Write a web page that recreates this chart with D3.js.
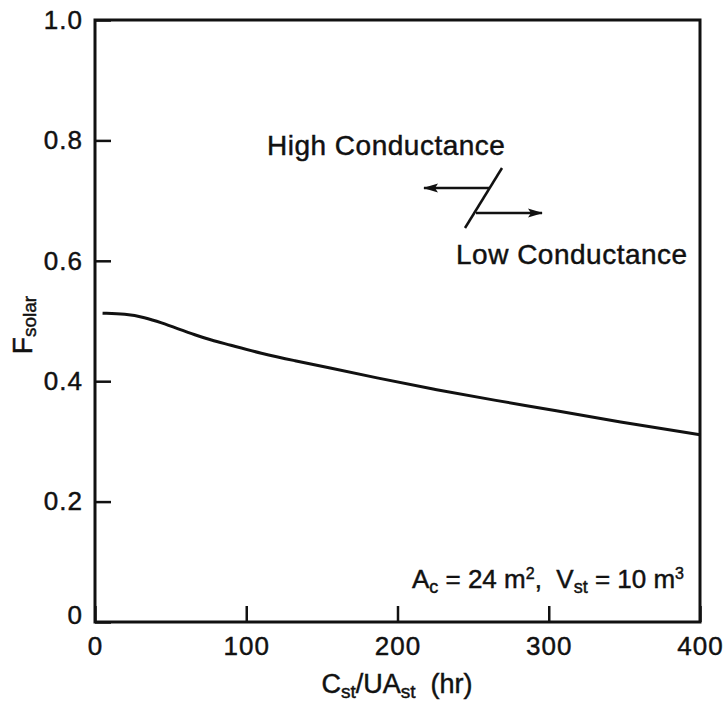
<!DOCTYPE html>
<html>
<head>
<meta charset="utf-8">
<script src="https://cdn.jsdelivr.net/npm/d3@7"></script>
<style>
  body { margin: 0; background: #fff; }
  text { font-family: "Liberation Sans", Arial, sans-serif; fill: #111; stroke: #111; stroke-width: 0.45px; }
</style>
</head>
<body>
<div id="chart"></div>
<script>
// storage time constant (hr) and solar fraction
var storageHours = [5, 20, 33, 44, 55, 66, 77, 88, 110, 132, 154, 185, 225, 265, 305, 345, 400];
var solarFraction = [0.513, 0.512, 0.506, 0.497, 0.487, 0.477, 0.468, 0.461, 0.446, 0.434, 0.423, 0.406, 0.386, 0.368, 0.351, 0.333, 0.311];

var xTicks = [0, 100, 200, 300, 400];
var yTicks = [0, 0.2, 0.4, 0.6, 0.8, 1.0];

var width = 724, height = 709;
var margin = {top: 20, right: 24, bottom: 87, left: 95};

var x = d3.scaleLinear().domain([0, 400]).range([margin.left, width - margin.right]);
var y = d3.scaleLinear().domain([0, 1]).range([height - margin.bottom, margin.top]);

var svg = d3.select('#chart').append('svg')
    .attr('width', width)
    .attr('height', height);

// frame
svg.append('rect')
    .attr('x', x(0))
    .attr('y', y(1))
    .attr('width', x(400) - x(0))
    .attr('height', y(0) - y(1))
    .attr('fill', 'none')
    .attr('stroke', '#111')
    .attr('stroke-width', 3);

var yAxis = svg.append('g')
    .attr('transform', 'translate(' + x(0) + ',0)')
    .call(d3.axisLeft(y)
        .tickValues(yTicks)
        .tickSize(-16)
        .tickPadding(12)
        .tickFormat(function(d){ return d === 0 ? '0' : d3.format('.1f')(d); }));

var xAxis = svg.append('g')
    .attr('transform', 'translate(0,' + y(0) + ')')
    .call(d3.axisBottom(x)
        .tickValues(xTicks)
        .tickSize(-16)
        .tickPadding(15)
        .tickFormat(d3.format('d')));

[yAxis, xAxis].forEach(function(ax){
    ax.select('.domain').remove();
    ax.attr('font-family', null).attr('font-size', null);
    ax.selectAll('line').attr('stroke', '#111').attr('stroke-width', 2.5);
    ax.selectAll('text')
        .attr('fill', '#111')
        .style('font-size', '26px')
        .style('letter-spacing', '1px');
});

// the 0 label on the y axis sits a bit above the corner
yAxis.selectAll('.tick text')
    .filter(function(d){ return d === 0; })
    .attr('dy', '0.05em');

// curve
var line = d3.line()
    .x(function(d, i){ return x(storageHours[i]); })
    .y(function(d){ return y(d); })
    .curve(d3.curveBasis);

svg.append('path')
    .datum(solarFraction)
    .attr('d', line)
    .attr('fill', 'none')
    .attr('stroke', '#111')
    .attr('stroke-width', 3);

// axis titles
var xTitle = svg.append('text')
    .attr('x', 397)
    .attr('y', 693)
    .attr('text-anchor', 'middle')
    .style('font-size', '27px');
xTitle.append('tspan').text('C');
xTitle.append('tspan').attr('dy', 5).style('font-size', '19px').text('st');
xTitle.append('tspan').attr('dy', -5).text('/UA');
xTitle.append('tspan').attr('dy', 5).style('font-size', '19px').text('st');
xTitle.append('tspan').attr('dy', -5).text('\u00a0 (hr)');

var yTitle = svg.append('text')
    .attr('transform', 'translate(32,325) rotate(-90)')
    .attr('text-anchor', 'middle')
    .style('font-size', '28px');
yTitle.append('tspan').text('F');
yTitle.append('tspan').attr('dy', 4).style('font-size', '19px').text('solar');

// conductance annotation
svg.append('text')
    .attr('x', 267)
    .attr('y', 155)
    .style('font-size', '28px')
    .style('letter-spacing', '0.5px')
    .text('High Conductance');

svg.append('text')
    .attr('x', 456)
    .attr('y', 264)
    .style('font-size', '28px')
    .style('letter-spacing', '0.5px')
    .text('Low Conductance');

svg.append('defs').append('marker')
    .attr('id', 'head')
    .attr('viewBox', '0 0 15 10')
    .attr('refX', 14)
    .attr('refY', 5)
    .attr('markerWidth', 15)
    .attr('markerHeight', 10)
    .attr('markerUnits', 'userSpaceOnUse')
    .attr('orient', 'auto')
    .append('path')
    .attr('d', 'M0,0.5 L15,5 L0,9.5 L3,5 Z')
    .attr('fill', '#111');

svg.append('line')
    .attr('x1', 502).attr('y1', 168)
    .attr('x2', 465).attr('y2', 228)
    .attr('stroke', '#111').attr('stroke-width', 2.5);

svg.append('line')
    .attr('x1', 489).attr('y1', 188)
    .attr('x2', 424).attr('y2', 188)
    .attr('stroke', '#111').attr('stroke-width', 2.5)
    .attr('marker-end', 'url(#head)');

svg.append('line')
    .attr('x1', 476).attr('y1', 213)
    .attr('x2', 542).attr('y2', 213)
    .attr('stroke', '#111').attr('stroke-width', 2.5)
    .attr('marker-end', 'url(#head)');

// parameter note
var note = svg.append('text')
    .attr('x', 684)
    .attr('y', 588)
    .attr('text-anchor', 'end')
    .style('font-size', '26px');
note.append('tspan').text('A');
note.append('tspan').attr('dy', 5).style('font-size', '18px').text('c');
note.append('tspan').attr('dy', -5).text(' = 24 m');
note.append('tspan').attr('dy', -9).style('font-size', '16px').text('2');
note.append('tspan').attr('dy', 9).text(',\u00a0 V');
note.append('tspan').attr('dy', 5).style('font-size', '18px').text('st');
note.append('tspan').attr('dy', -5).text(' = 10 m');
note.append('tspan').attr('dy', -9).style('font-size', '16px').text('3');
</script>
</body>
</html>
